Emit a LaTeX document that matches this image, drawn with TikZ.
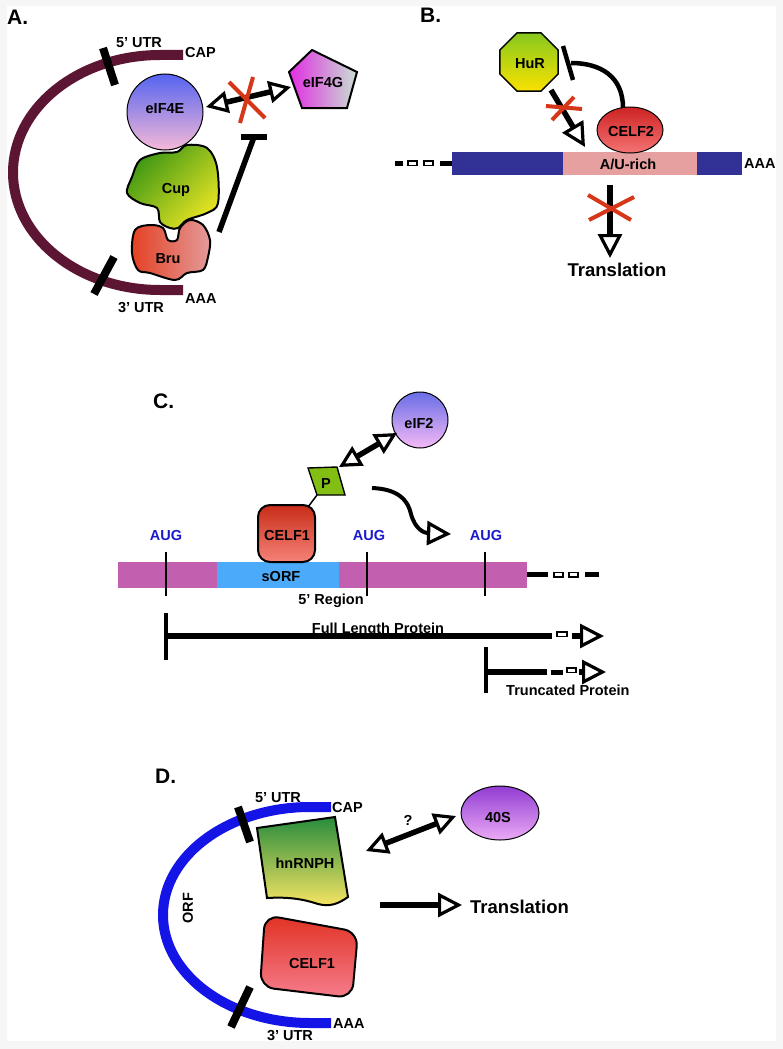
\documentclass[tikz,border=0pt]{standalone}
\usepackage{fontspec}
\setmainfont{Liberation Sans}
\usetikzlibrary{arrows.meta,shapes.geometric}
\definecolor{maroon}{RGB}{92,22,52}
\definecolor{xred}{RGB}{215,55,25}
\definecolor{navyB}{RGB}{50,50,150}
\definecolor{aupink}{RGB}{230,160,160}
\definecolor{magC}{RGB}{195,95,175}
\definecolor{sorfblue}{RGB}{75,170,250}
\definecolor{augblue}{RGB}{25,25,205}
\definecolor{blueD}{RGB}{20,20,230}
\definecolor{pgreen}{RGB}{130,190,20}
\definecolor{framegray}{RGB}{246,246,246}
\tikzset{
  lbl/.style={font=\bfseries\fontsize{14.5}{16}\selectfont, inner sep=0pt, anchor=base},
  panel/.style={font=\bfseries\fontsize{21}{24}\selectfont, inner sep=0pt, anchor=base west},
  big/.style={font=\bfseries\fontsize{18.5}{20}\selectfont, inner sep=0pt, anchor=base},
  outl/.style={draw=black, line width=1.4pt},
  xmark/.style={draw=xred, line width=4pt},
  openhead/.style={-{Triangle[open,length=24pt,width=24pt,line width=3.2pt]}},
  dblhead/.style={{Triangle[open,length=22pt,width=22pt,line width=3.2pt]}-{Triangle[open,length=22pt,width=22pt,line width=3.2pt]}},
  thick5/.style={line width=5.5pt},
  hollowseg/.style={draw=black, line width=1.2pt, fill=white},
}
\begin{document}
\begin{tikzpicture}[x=1pt,y=-1pt]
\fill[framegray] (0,0) rectangle (783,1049);
\fill[white] (7,6) rectangle (776,1041);
\useasboundingbox (0,0) rectangle (783,1049);

%% ================= Panel A =================
\node[panel] (labA) at (7,25) {A.};
\draw[maroon, line width=10pt] (183,55) -- (160,55)
   arc[start angle=270, end angle=90, x radius=147, y radius=117.5] -- (183,290);
\draw[line width=8pt] (103,48) -- (115,85);
\draw[line width=8pt] (114,257) -- (94,294);
\node[lbl] (utr5A) at (139,48) {5’ UTR};
\node[lbl, anchor=base west] (capA) at (185,58) {CAP};
\node[lbl, anchor=base west] (aaaA) at (185,303) {AAA};
\node[lbl] (utr3A) at (141,312) {3’ UTR};

\node[circle, outl, line width=1pt, minimum size=76pt, top color={rgb,255:red,85;green,100;blue,240}, bottom color={rgb,255:red,245;green,185;blue,215}] (eif4e) at (165,112) {};
\node[lbl] (eif4eT) at (165,113) {eIF4E};

\draw[line width=2pt, top color={rgb,255:red,60;green,150;blue,20}, bottom color={rgb,255:red,230;green,228;blue,35}, shading angle=45]
  plot[smooth cycle, tension=0.55] coordinates {(140,160) (160,153) (177,152) (187,145) (207,148) (217,167) (218,203) (207,213) (187,220) (178,228) (170,228) (160,222) (157,208) (140,203) (127,193) (132,177)};
\node[lbl] (cup) at (176,193) {Cup};

\draw[line width=2pt, left color={rgb,255:red,228;green,65;blue,35}, right color={rgb,255:red,228;green,155;blue,155}]
  plot[smooth cycle, tension=0.55] coordinates {(135,230) (150,225) (163,228) (168,240) (177,240) (180,228) (190,220) (203,225) (210,240) (208,257) (203,270) (187,273) (175,280) (150,273) (138,270) (132,253)};
\node[lbl] (bru) at (168,263) {Bru};

\draw[outl, line width=2pt, left color={rgb,255:red,225;green,45;blue,225}, right color={rgb,255:red,200;green,225;blue,210}]
  (312,50) -- (357,72) -- (347,108) -- (302,108) -- (289,72) -- cycle;
\node[lbl] (eif4g) at (323,88) {eIF4G};

\coordinate (a4e) at (206,107);
\coordinate (a4g) at (291,87);
\draw[thick5, dblhead] (a4e) -- (a4g);
\draw[xmark] (229,82) -- (265,118);
\draw[xmark] (253,77) -- (240,123);

\coordinate (bruI) at (219,232);
\coordinate (barA) at (254,137);
\coordinate (barAl) at (241,137);
\coordinate (barAr) at (267,137);
\draw[thick5] (bruI) -- (barA);
\draw[thick5] (barAl) -- (barAr);

%% ================= Panel B =================
\node[panel] (labB) at (420,23) {B.};
\fill[navyB] (452,152) rectangle (563,175);
\fill[aupink] (563,152) rectangle (697,175);
\fill[navyB] (697,152) rectangle (742,175);
\node[lbl] (aurich) at (628,169) {A/U-rich};
\node[lbl, anchor=base west] (aaaB) at (744,168) {AAA};
\fill (395,160.5) rectangle (403,165.5);
\draw[hollowseg] (408,161) rectangle (417,165.5);
\draw[hollowseg] (424,161) rectangle (433,165.5);
\fill (440,160.5) rectangle (452,165.5);

\node[regular polygon, regular polygon sides=8, outl, minimum size=63pt, inner sep=0pt, top color={rgb,255:red,135;green,200;blue,30}, bottom color={rgb,255:red,250;green,225;blue,0}] (hur) at (529,62) {};
\node[lbl] (hurT) at (530,68) {HuR};

\node[ellipse, outl, line width=1pt, minimum width=66pt, minimum height=46pt, top color={rgb,255:red,205;green,35;blue,35}, bottom color={rgb,255:red,245;green,115;blue,115}] (celf2) at (630,130) {};
\node[lbl] (celf2T) at (631,136) {CELF2};

\coordinate (hurA) at (551,90);
\coordinate (auA) at (585,147);
\draw[thick5, openhead] (hurA) -- (auA);
\draw[xmark] (546,106) -- (582,109);
\draw[xmark] (552,120) -- (574,97);

\coordinate (celfI) at (623,108);
\coordinate (hurBar) at (571,63);
\draw[line width=4.5pt] (celfI) .. controls (623,76) and (600,63) .. (hurBar);
\draw[line width=4.5pt] (563,46) -- (573,80);

\coordinate (trB1) at (610,185);
\coordinate (trB2) at (610,258);
\draw[thick5, openhead] (trB1) -- (trB2);
\draw[xmark] (588,195) -- (631,220);
\draw[xmark] (589,220) -- (634,197);
\node[big] (transB) at (617,276) {Translation};

%% ================= Panel C =================
\node[panel] (labC) at (153,408) {C.};
\fill[magC] (118,562) rectangle (527,588);
\fill[sorfblue] (217,562) rectangle (339,588);
\node[lbl] (sorf) at (281,581) {sORF};
\draw[line width=2pt] (166,552) -- (166,596);
\draw[line width=2pt] (367,552) -- (367,596);
\draw[line width=2pt] (485,552) -- (485,596);
\node[lbl, text=augblue] (aug1) at (166,540) {AUG};
\node[lbl, text=augblue] (aug2) at (369,540) {AUG};
\node[lbl, text=augblue] (aug3) at (486,540) {AUG};
\node[lbl] (reg5) at (331,604) {5’ Region};
\fill (527,572) rectangle (548,577);
\draw[hollowseg] (554,572.5) rectangle (563,577);
\draw[hollowseg] (569,572.5) rectangle (578,577);
\fill (585,572) rectangle (599,577);

\node[rounded corners=12pt, draw=black, line width=2pt, minimum width=57pt, minimum height=57pt, top color={rgb,255:red,200;green,45;blue,25}, bottom color={rgb,255:red,245;green,130;blue,120}] (celf1C) at (286.5,533.5) {};
\node[lbl] (celf1CT) at (287,540) {CELF1};

\draw[outl, fill=pgreen] (308,468) -- (337,467) -- (345,495) -- (317,495) -- cycle;
\node[lbl] (pT) at (326,488) {P};
\coordinate (pB) at (317,495);
\coordinate (cB) at (308,507);
\draw[line width=1.5pt] (pB) -- (cB);

\node[circle, outl, line width=1pt, minimum size=56pt, top color={rgb,255:red,105;green,110;blue,230}, bottom color={rgb,255:red,245;green,185;blue,245}] (eif2) at (420,420) {};
\node[lbl] (eif2T) at (419,428) {eIF2};
\coordinate (pA) at (339,467);
\coordinate (e2A) at (397,433);
\draw[thick5, dblhead] (pA) -- (e2A);

\coordinate (curS) at (372,488);
\coordinate (curE) at (451,534);
\draw[line width=4pt, openhead] (curS) .. controls (398,489) and (408,500) .. (411,514) .. controls (415,529) and (424,533) .. (curE);

% full length
\coordinate (flS) at (166,636);
\draw[line width=4pt] (166,613) -- (166,660);
\draw[thick5] (flS) -- (552,636);
\draw[hollowseg] (557,632) rectangle (567,636.5);
\coordinate (flT) at (604,636);
\draw[thick5, openhead] (572,636) -- (flT);
\node[lbl] (flp) at (378,633) {Full Length Protein};
% truncated
\coordinate (trS) at (486,672);
\draw[line width=4pt] (486,647) -- (486,693);
\draw[thick5] (trS) -- (547,672);
\fill (551,669.5) rectangle (563,674.5);
\draw[hollowseg] (567,668) rectangle (576,672.5);
\coordinate (trT) at (606,672);
\draw[thick5, openhead] (579,672) -- (trT);
\node[lbl, anchor=base west] (trp) at (506,695) {Truncated Protein};

%% ================= Panel D =================
\node[panel] (labD) at (155,783) {D.};
\draw[blueD, line width=10pt] (331,807) -- (310,807)
   arc[start angle=270, end angle=90, x radius=147, y radius=108] -- (331,1023);
\draw[line width=8pt] (238,807) -- (250,842);
\draw[line width=8pt] (250,987) -- (231,1027);
\node[lbl] (utr5D) at (278,802) {5’ UTR};
\node[lbl, anchor=base west] (capD) at (332,812) {CAP};
\node[lbl, anchor=base west] (aaaD) at (333,1028) {AAA};
\node[lbl] (utr3D) at (290,1040) {3’ UTR};
\node[lbl, rotate=90, anchor=center] (orf) at (188,908) {ORF};

\draw[outl, line width=2pt, top color={rgb,255:red,40;green,140;blue,60}, bottom color={rgb,255:red,250;green,230;blue,100}]
  (257,828) -- (335,817) -- (348,897) .. controls (338,904) and (330,907) .. (318,904)
  .. controls (300,898) and (285,897) .. (267,898) -- cycle;
\node[lbl] (hnrnph) at (305,868) {hnRNPH};

\draw[outl, line width=2pt, rounded corners=14pt, top color={rgb,255:red,225;green,50;blue,35}, bottom color={rgb,255:red,245;green,125;blue,140}]
  (265,915) -- (358,932) -- (352,998) -- (260,987) -- cycle;
\node[lbl] (celf1D) at (312,968) {CELF1};

\node[ellipse, outl, line width=1pt, minimum width=78pt, minimum height=54pt, top color={rgb,255:red,145;green,60;blue,210}, bottom color={rgb,255:red,235;green,170;blue,245}] (s40) at (500,813) {};
\node[lbl] (s40T) at (498,822) {40S};
\coordinate (hA) at (366,851);
\coordinate (sA) at (456,816);
\draw[thick5, dblhead] (hA) -- (sA);
\node[lbl] (q) at (408,825) {?};

\coordinate (trD1) at (380,905);
\coordinate (trD2) at (462,905);
\draw[thick5, openhead] (trD1) -- (trD2);
\node[big, anchor=base west] (transD) at (470,913) {Translation};
\end{tikzpicture}
\end{document}
